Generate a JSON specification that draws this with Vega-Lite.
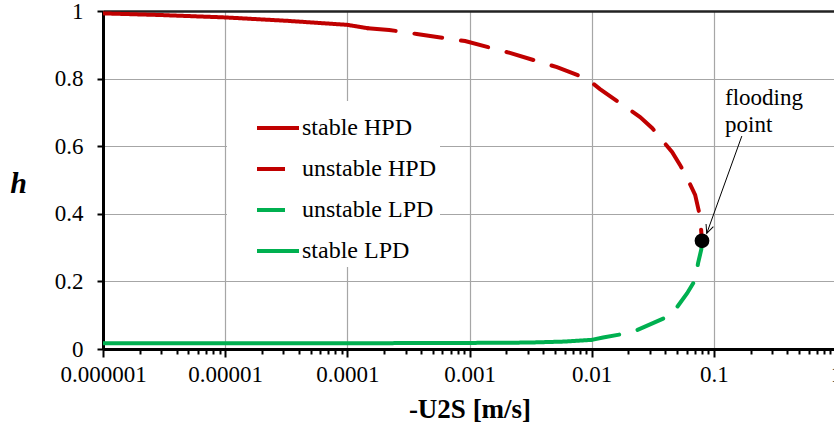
{
  "$schema": "https://vega.github.io/schema/vega-lite/v6.json",
  "width": 733,
  "height": 338,
  "autosize": {"type": "none"},
  "padding": {"left": 103, "top": 11, "right": 0, "bottom": 85},
  "background": "white",
  "config": {
    "view": {"stroke": null},
    "font": "Liberation Serif",
    "axis": {
      "labelFont": "Liberation Serif",
      "labelFontSize": 23,
      "labelColor": "black",
      "labelOverlap": false,
      "labelFlush": false,
      "domainColor": "black",
      "domainWidth": 3,
      "ticks": true,
      "tickColor": "black",
      "tickWidth": 2,
      "titleFont": "Liberation Serif",
      "titleFontWeight": "bold",
      "titleColor": "black",
      "grid": true,
      "gridColor": "#a6a6a6",
      "gridWidth": 1.2
    },
    "axisX": {
      "labelPadding": 6,
      "titleFontSize": 27,
      "titlePadding": 10
    },
    "axisY": {
      "labelPadding": 14,
      "tickSize": 6,
      "titleFontSize": 30,
      "titleFontStyle": "italic",
      "titleAngle": 0,
      "titleAlign": "center",
      "titleBaseline": "middle",
      "titleX": -85,
      "titleY": 172
    },
    "legend": {
      "orient": "none",
      "legendX": 124,
      "legendY": 90,
      "fillColor": "white",
      "padding": 4,
      "symbolType": "stroke",
      "symbolStrokeWidth": 4,
      "symbolSize": 1764,
      "symbolOffset": 24,
      "labelOffset": 1,
      "labelFont": "Liberation Serif",
      "labelFontSize": 24,
      "labelColor": "black",
      "rowPadding": 6,
      "title": null
    }
  },
  "datasets": {
    "curves": [
      {"u": 0.000001, "h": 0.993, "series": "stable HPD"},
      {"u": 0.000003, "h": 0.988, "series": "stable HPD"},
      {"u": 0.00001, "h": 0.981, "series": "stable HPD"},
      {"u": 0.000032, "h": 0.971, "series": "stable HPD"},
      {"u": 0.0001, "h": 0.959, "series": "stable HPD"},
      {"u": 0.000147, "h": 0.949, "series": "stable HPD"},
      {"u": 0.000147, "h": 0.949, "series": "unstable HPD"},
      {"u": 0.00022, "h": 0.944, "series": "unstable HPD"},
      {"u": 0.00037, "h": 0.932, "series": "unstable HPD"},
      {"u": 0.00092, "h": 0.911, "series": "unstable HPD"},
      {"u": 0.00214, "h": 0.876, "series": "unstable HPD"},
      {"u": 0.0052, "h": 0.834, "series": "unstable HPD"},
      {"u": 0.0091, "h": 0.8, "series": "unstable HPD"},
      {"u": 0.0117, "h": 0.769, "series": "unstable HPD"},
      {"u": 0.0249, "h": 0.686, "series": "unstable HPD"},
      {"u": 0.0312, "h": 0.654, "series": "unstable HPD"},
      {"u": 0.0455, "h": 0.583, "series": "unstable HPD"},
      {"u": 0.053, "h": 0.544, "series": "unstable HPD"},
      {"u": 0.0615, "h": 0.5, "series": "unstable HPD"},
      {"u": 0.0703, "h": 0.456, "series": "unstable HPD"},
      {"u": 0.0757, "h": 0.405, "series": "unstable HPD"},
      {"u": 0.0785, "h": 0.358, "series": "unstable HPD"},
      {"u": 0.08, "h": 0.32, "series": "unstable HPD"},
      {"u": 0.000001, "h": 0.017, "series": "stable LPD"},
      {"u": 0.0001, "h": 0.017, "series": "stable LPD"},
      {"u": 0.001, "h": 0.018, "series": "stable LPD"},
      {"u": 0.003, "h": 0.019, "series": "stable LPD"},
      {"u": 0.006, "h": 0.022, "series": "stable LPD"},
      {"u": 0.01, "h": 0.027, "series": "stable LPD"},
      {"u": 0.01, "h": 0.027, "series": "unstable LPD"},
      {"u": 0.0124, "h": 0.034, "series": "unstable LPD"},
      {"u": 0.0177, "h": 0.044, "series": "unstable LPD"},
      {"u": 0.0235, "h": 0.056, "series": "unstable LPD"},
      {"u": 0.0414, "h": 0.095, "series": "unstable LPD"},
      {"u": 0.05, "h": 0.124, "series": "unstable LPD"},
      {"u": 0.0605, "h": 0.165, "series": "unstable LPD"},
      {"u": 0.0703, "h": 0.204, "series": "unstable LPD"},
      {"u": 0.0743, "h": 0.254, "series": "unstable LPD"},
      {"u": 0.079, "h": 0.295, "series": "unstable LPD"},
      {"u": 0.08, "h": 0.32, "series": "unstable LPD"}
    ],
    "flood": [{"u": 0.08, "h": 0.32}],
    "note": [{"u": 0.1236, "h": 0.722, "label": ["flooding", "point"]}],
    "arrow": [{"u": 0.1695, "h": 0.63, "u2": 0.0875, "h2": 0.342}]
  },
  "layer": [
    {
      "data": {"name": "curves"},
      "mark": {"type": "line", "strokeWidth": 4, "strokeCap": "round", "clip": true},
      "encoding": {
        "x": {
          "field": "u",
          "type": "quantitative",
          "scale": {"type": "log", "domain": [0.000001, 1]},
          "title": "-U2S [m/s]",
          "axis": {
            "values": [1e-6, 2e-6, 3e-6, 4e-6, 5e-6, 6e-6, 7e-6, 8e-6, 9e-6,
                       1e-5, 2e-5, 3e-5, 4e-5, 5e-5, 6e-5, 7e-5, 8e-5, 9e-5,
                       1e-4, 2e-4, 3e-4, 4e-4, 5e-4, 6e-4, 7e-4, 8e-4, 9e-4,
                       0.001, 0.002, 0.003, 0.004, 0.005, 0.006, 0.007, 0.008, 0.009,
                       0.01, 0.02, 0.03, 0.04, 0.05, 0.06, 0.07, 0.08, 0.09,
                       0.1, 0.2, 0.3, 0.4, 0.5, 0.6, 0.7, 0.8, 0.9, 1],
            "labelExpr": "abs(log(datum.value)/LN10 - round(log(datum.value)/LN10)) < 0.000001 ? format(datum.value, '~f') : ''",
            "tickSize": {"condition": {"test": "abs(log(datum.value)/LN10 - round(log(datum.value)/LN10)) < 0.000001", "value": 8}, "value": 5},
            "gridOpacity": {"condition": {"test": "abs(log(datum.value)/LN10 - round(log(datum.value)/LN10)) < 0.000001", "value": 1}, "value": 0}
          }
        },
        "y": {
          "field": "h",
          "type": "quantitative",
          "scale": {"domain": [0, 1]},
          "title": "h",
          "axis": {
            "values": [0, 0.1, 0.2, 0.3, 0.4, 0.5, 0.6, 0.7, 0.8, 0.9, 1],
            "labelExpr": "round(datum.value*10) % 2 == 0 ? format(datum.value, '~g') : ''",
            "gridColor": {"condition": {"test": "datum.value == 1", "value": "#222222"}, "value": "#a6a6a6"},
            "gridWidth": {"condition": {"test": "datum.value == 1", "value": 2.5}, "value": 1.2},
            "gridOpacity": {"condition": {"test": "round(datum.value*10) % 2 == 0", "value": 1}, "value": 0}
          }
        },
        "color": {
          "field": "series",
          "type": "nominal",
          "scale": {
            "domain": ["stable HPD", "unstable HPD", "unstable LPD", "stable LPD"],
            "range": ["#c00000", "#c00000", "#00b050", "#00b050"]
          }
        },
        "strokeDash": {
          "field": "series",
          "type": "nominal",
          "scale": {
            "domain": ["stable HPD", "unstable HPD", "unstable LPD", "stable LPD"],
            "range": [[1, 0], [28, 19], [28, 19], [1, 0]]
          }
        }
      }
    },
    {
      "data": {"name": "flood"},
      "mark": {"type": "point", "filled": true, "color": "black", "size": 218, "opacity": 1},
      "encoding": {
        "x": {"field": "u", "type": "quantitative"},
        "y": {"field": "h", "type": "quantitative"}
      }
    },
    {
      "data": {"name": "arrow"},
      "mark": {"type": "rule", "color": "black", "strokeWidth": 1},
      "encoding": {
        "x": {"field": "u", "type": "quantitative"},
        "y": {"field": "h", "type": "quantitative"},
        "x2": {"field": "u2"},
        "y2": {"field": "h2"}
      }
    },
    {
      "data": {"name": "arrow"},
      "mark": {"type": "point", "shape": "M-0.45,1L0,0L0.45,1", "filled": false, "stroke": "black", "strokeWidth": 1, "size": 300, "angle": 200, "opacity": 1},
      "encoding": {
        "x": {"field": "u2", "type": "quantitative"},
        "y": {"field": "h2", "type": "quantitative"}
      }
    },
    {
      "data": {"name": "note"},
      "mark": {"type": "text", "align": "left", "baseline": "alphabetic", "font": "Liberation Serif", "fontSize": 23, "lineHeight": 27, "color": "black"},
      "encoding": {
        "x": {"field": "u", "type": "quantitative"},
        "y": {"field": "h", "type": "quantitative"},
        "text": {"field": "label"}
      }
    }
  ]
}
